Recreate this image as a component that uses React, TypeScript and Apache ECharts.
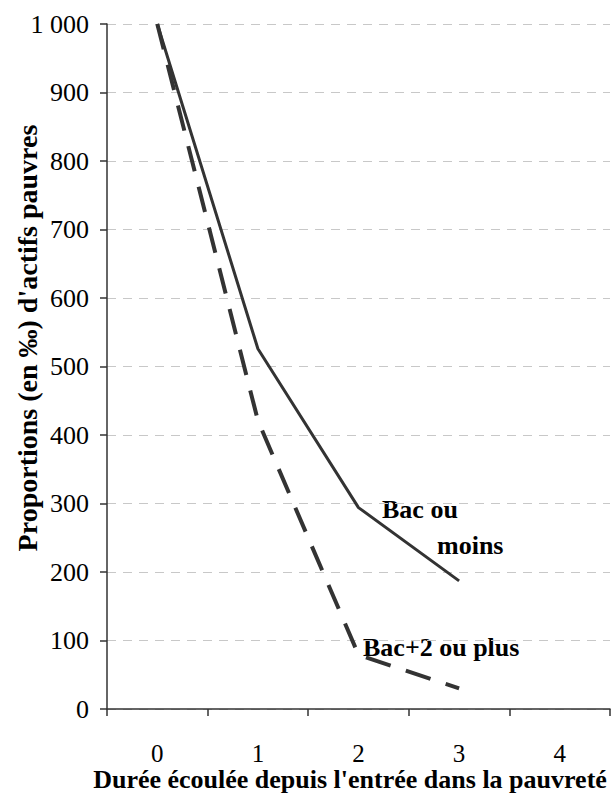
import React, { useEffect, useRef } from "react";
import * as echarts from "echarts";

const categories = ["0", "1", "2", "3", "4"];
const bacOuMoins = [1000, 526, 294, 187, null];
const bacPlus2 = [1000, 421, 79, 30, null];
const yTicks = { min: 0, max: 1000, interval: 100 };

const FONT = "Liberation Serif";

export default function App() {
  const ref = useRef<HTMLDivElement>(null);
  useEffect(() => {
    const chart = echarts.init(ref.current!, null, { renderer: "svg" });
    const t = (text: string, size: number, extra: any) => ({
      type: "text",
      ...extra,
      style: {
        text,
        fontFamily: FONT,
        fontWeight: "bold",
        fontSize: size,
        fill: "#000",
        verticalAlign: "middle",
        ...(extra.style || {}),
      },
    });
    chart.setOption({
      animation: false,
      textStyle: { fontFamily: FONT },
      grid: { left: 107, right: 1, top: 24, bottom: 87 },
      xAxis: {
        type: "category",
        data: categories,
        boundaryGap: true,
        axisLine: { lineStyle: { color: "#333", width: 1.5 } },
        axisTick: { show: true, length: 7, lineStyle: { color: "#333", width: 1.5 } },
        axisLabel: { margin: 32, fontFamily: FONT, fontSize: 25, color: "#000" },
        splitLine: { show: false },
      },
      yAxis: {
        type: "value",
        min: yTicks.min,
        max: yTicks.max,
        interval: yTicks.interval,
        axisLine: { show: true, lineStyle: { color: "#333", width: 1.5 } },
        axisTick: { show: true, length: 7, lineStyle: { color: "#333", width: 1.5 } },
        axisLabel: {
          margin: 18,
          fontFamily: FONT,
          fontSize: 26,
          color: "#000",
          formatter: (v: number) => (v >= 1000 ? String(v).replace(/\B(?=(\d{3})+(?!\d))/g, " ") : String(v)),
        },
        splitLine: { show: true, lineStyle: { color: "#c8c8c8", type: [9, 7], width: 1.2 } },
      },
      series: [
        {
          name: "Bac ou moins",
          type: "line",
          data: bacOuMoins,
          symbol: "none",
          lineStyle: { color: "#333", width: 3 },
        },
        {
          name: "Bac+2 ou plus",
          type: "line",
          data: bacPlus2,
          symbol: "none",
          lineStyle: { color: "#333", width: 4, type: [26, 16] },
        },
      ],
      graphic: [
        t("Bac ou", 26, { x: 382, y: 509 }),
        t("moins", 26, { x: 437, y: 545 }),
        t("Bac+2 ou plus", 26, { x: 363, y: 647 }),
        t("Durée écoulée depuis l'entrée dans la pauvreté", 26, {
          x: 350,
          y: 779,
          style: { align: "center" },
        }),
        t("Proportions (en ‰) d'actifs pauvres", 28, {
          x: 27,
          y: 338,
          rotation: Math.PI / 2,
          style: { align: "center" },
        }),
      ],
    });
    return () => chart.dispose();
  }, []);
  return <div ref={ref} style={{ width: 611, height: 796, position: "absolute", left: 0, top: 0 }} />;
}
